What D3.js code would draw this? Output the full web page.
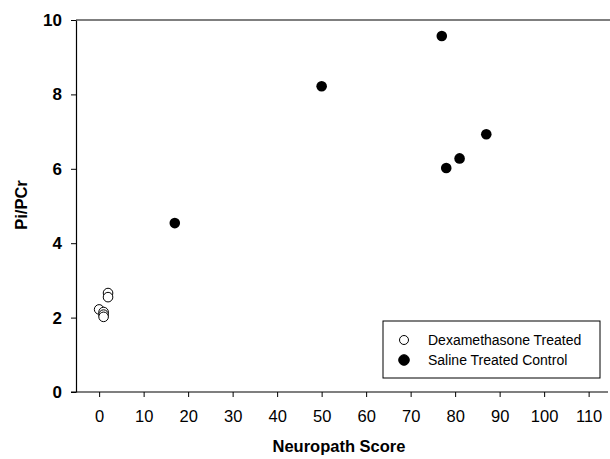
<!DOCTYPE html>
<html>
<head>
<meta charset="utf-8">
<script src="https://cdn.jsdelivr.net/npm/d3@7"></script>
<style>
  body { margin: 0; background: #fff; }
  svg { display: block; font-family: Arial, "Liberation Sans", sans-serif; }
</style>
</head>
<body>
<div id="chart"></div>
<script>
// values
const dexScore = [0, 1, 1, 1, 2, 2];
const dexRatio = [2.22, 2.15, 2.08, 2.02, 2.66, 2.55];
const salScore = [17, 50, 77, 78, 81, 87];
const salRatio = [4.54, 8.22, 9.57, 6.02, 6.28, 6.93];
const xTicks = [0, 10, 20, 30, 40, 50, 60, 70, 80, 90, 100, 110];
const yTicks = [0, 2, 4, 6, 8, 10];
const legendLabels = ["Dexamethasone Treated", "Saline Treated Control"];

const W = 610, H = 459;
const margin = { top: 20, right: 0, bottom: 67, left: 76 };

const svg = d3.select("#chart").append("svg")
  .attr("width", W).attr("height", H);

const x = d3.scaleLinear().domain([-5.2, 114.8]).range([margin.left, W - margin.right]);
const y = d3.scaleLinear().domain([0, 10]).range([H - margin.bottom, margin.top]);

// top frame line
svg.append("line")
  .attr("x1", margin.left).attr("x2", W)
  .attr("y1", y(10)).attr("y2", y(10))
  .attr("stroke", "#000").attr("stroke-width", 1.2);

const xAxis = svg.append("g")
  .attr("transform", "translate(0," + y(0) + ")")
  .call(d3.axisBottom(x).tickValues(xTicks).tickSize(5).tickPadding(13).tickSizeOuter(0));
xAxis.select(".domain").attr("d", "M" + (margin.left - 5) + ",0H" + (W - 2)).attr("stroke-width", 1.2);
xAxis.selectAll("text").attr("font-size", 16.5).attr("fill", "#000")
  .attr("font-family", "Arial, 'Liberation Sans', sans-serif");

const yAxis = svg.append("g")
  .attr("transform", "translate(" + margin.left + ",0)")
  .call(d3.axisLeft(y).tickValues(yTicks).tickSize(5).tickPadding(9).tickSizeOuter(0));
yAxis.select(".domain").attr("stroke-width", 1.2);
yAxis.selectAll("text").attr("font-size", 17).attr("font-weight", "bold").attr("fill", "#000")
  .attr("font-family", "Arial, 'Liberation Sans', sans-serif");

// axis titles
svg.append("text")
  .attr("x", 339).attr("y", 452)
  .attr("text-anchor", "middle")
  .attr("font-size", 16.5).attr("font-weight", "bold")
  .text("Neuropath Score");

svg.append("text")
  .attr("transform", "translate(27," + 205 + ") rotate(-90)")
  .attr("text-anchor", "middle")
  .attr("font-size", 16.5).attr("font-weight", "bold")
  .text("Pi/PCr");

// points
const r = 5.3;
svg.append("g").selectAll("circle")
  .data(salScore.map((s, i) => [s, salRatio[i]]))
  .join("circle")
  .attr("cx", d => x(d[0])).attr("cy", d => y(d[1]))
  .attr("r", r).attr("fill", "#000");

svg.append("g").selectAll("circle")
  .data(dexScore.map((s, i) => [s, dexRatio[i]]))
  .join("circle")
  .attr("cx", d => x(d[0])).attr("cy", d => y(d[1]))
  .attr("r", r - 0.5).attr("fill", "#fff").attr("stroke", "#000").attr("stroke-width", 1);

// legend
const lg = svg.append("g").attr("transform", "translate(383,321)");
lg.append("rect")
  .attr("width", 217).attr("height", 57)
  .attr("fill", "#fff").attr("stroke", "#000").attr("stroke-width", 1);
legendLabels.forEach((t, i) => {
  const cy = 19 + i * 20;
  lg.append("circle")
    .attr("cx", 21).attr("cy", cy).attr("r", i === 0 ? 4.5 : 5.3)
    .attr("fill", i === 0 ? "#fff" : "#000")
    .attr("stroke", "#000").attr("stroke-width", 1);
  lg.append("text")
    .attr("x", 45).attr("y", cy + 5)
    .attr("font-size", 14)
    .text(t);
});
</script>
</body>
</html>
